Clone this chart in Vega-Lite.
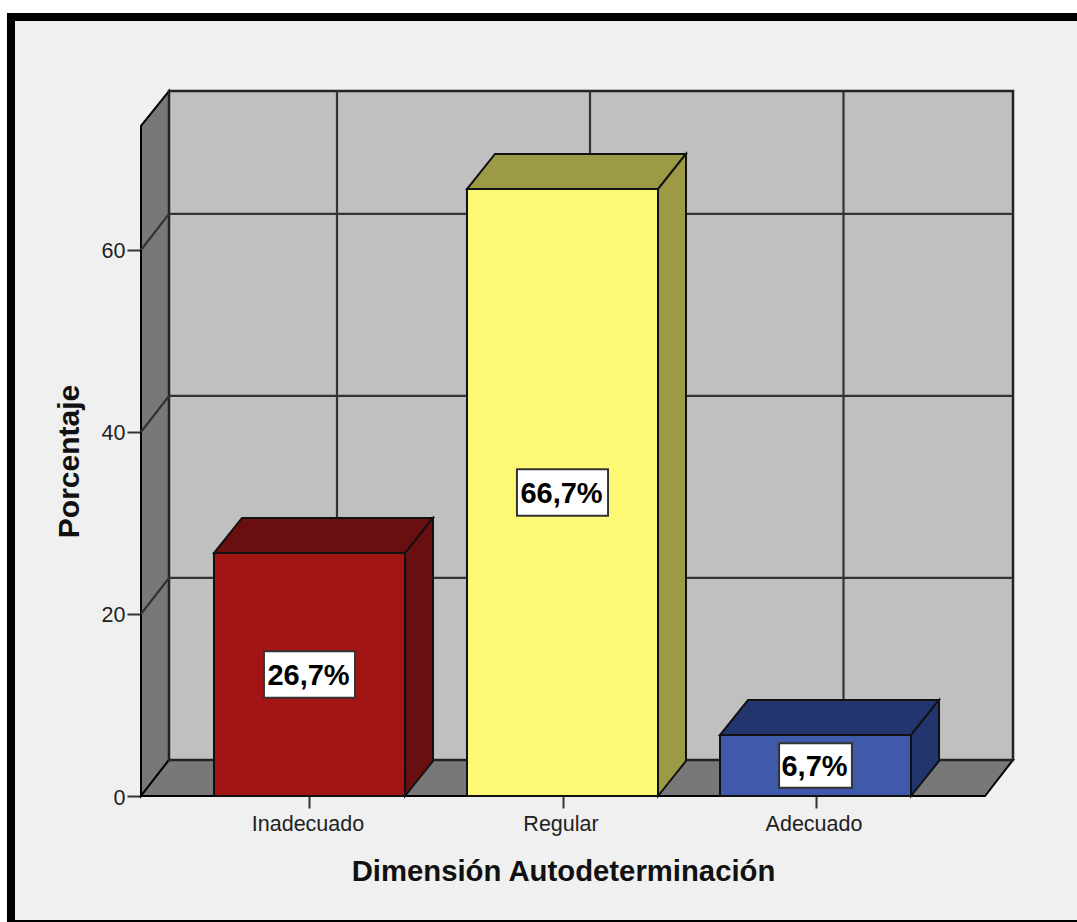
{
"$schema":"https://vega.github.io/schema/vega-lite/v6.json",
"width":872,"height":705,
"autosize":{"type":"none"},
"padding":{"left":141,"top":91,"right":64,"bottom":126},
"background":"#f0f0f0",
"config":{"view":{"stroke":null},"font":"Liberation Sans"},
"datasets":{
"marco":[
{"parte":"blanco","x":-0.2233,"x2":4.0336,"y":86.04,"y2":87.47},
{"parte":"blanco","x":-0.2233,"x2":-0.1957,"y":-13.846,"y2":87.47},
{"parte":"negro","x":-0.1957,"x2":4.0336,"y":85.16,"y2":86.04},
{"parte":"negro","x":-0.1957,"x2":-0.164,"y":-13.846,"y2":86.04},
{"parte":"negro","x":-0.1957,"x2":4.0336,"y":-13.846,"y2":-13.626}
],
"paredes":[
{"parte":"lateral","x":0.334,"y":0,"y2":73.63},
{"parte":"lateral","x":0.4447,"y":3.96,"y2":77.47},
{"parte":"piso","x":0.334,"y":0,"y2":0},
{"parte":"piso","x":0.4447,"y":0,"y2":3.96},
{"parte":"piso","x":3.67,"y":0,"y2":3.96},
{"parte":"piso","x":3.7806,"y":3.96,"y2":3.96}
],
"fondo":[{"parte":"pared","x":0.4447,"x2":3.7806,"y":3.96,"y2":77.47}],
"rejilla":[
{"x":0.4447,"x2":3.7806,"y":23.96,"y2":23.96},
{"x":0.4447,"x2":3.7806,"y":43.96,"y2":43.96},
{"x":0.4447,"x2":3.7806,"y":63.96,"y2":63.96},
{"x":0.334,"x2":0.4447,"y":20,"y2":23.96},
{"x":0.334,"x2":0.4447,"y":40,"y2":43.96},
{"x":0.334,"x2":0.4447,"y":60,"y2":63.96},
{"x":1.1087,"x2":1.1087,"y":3.96,"y2":77.47},
{"x":2.1087,"x2":2.1087,"y":3.96,"y2":77.47},
{"x":3.1107,"x2":3.1107,"y":3.96,"y2":77.47}
],
"frentes":[
{"parte":"Inadecuado","x":0.6225,"x2":1.3775,"y":0,"y2":26.7},
{"parte":"Regular","x":1.6225,"x2":2.3775,"y":0,"y2":66.7},
{"parte":"Adecuado","x":2.6225,"x2":3.3775,"y":0,"y2":6.7}
],
"caras":[
{"cara":"a1","parte":"Inadecuado oscuro","x":0.6225,"y":26.7,"y2":26.7},
{"cara":"a1","parte":"Inadecuado oscuro","x":0.7332,"y":26.7,"y2":30.55},
{"cara":"a1","parte":"Inadecuado oscuro","x":1.3775,"y":26.7,"y2":30.55},
{"cara":"a1","parte":"Inadecuado oscuro","x":1.4882,"y":30.55,"y2":30.55},
{"cara":"a2","parte":"Inadecuado oscuro","x":1.3775,"y":0,"y2":26.7},
{"cara":"a2","parte":"Inadecuado oscuro","x":1.4882,"y":3.85,"y2":30.55},
{"cara":"b1","parte":"Regular oscuro","x":1.6225,"y":66.7,"y2":66.7},
{"cara":"b1","parte":"Regular oscuro","x":1.7332,"y":66.7,"y2":70.55},
{"cara":"b1","parte":"Regular oscuro","x":2.3775,"y":66.7,"y2":70.55},
{"cara":"b1","parte":"Regular oscuro","x":2.4882,"y":70.55,"y2":70.55},
{"cara":"b2","parte":"Regular oscuro","x":2.3775,"y":0,"y2":66.7},
{"cara":"b2","parte":"Regular oscuro","x":2.4882,"y":3.85,"y2":70.55},
{"cara":"c1","parte":"Adecuado oscuro","x":2.6225,"y":6.7,"y2":6.7},
{"cara":"c1","parte":"Adecuado oscuro","x":2.7332,"y":6.7,"y2":10.55},
{"cara":"c1","parte":"Adecuado oscuro","x":3.3775,"y":6.7,"y2":10.55},
{"cara":"c1","parte":"Adecuado oscuro","x":3.4882,"y":10.55,"y2":10.55},
{"cara":"c2","parte":"Adecuado oscuro","x":3.3775,"y":0,"y2":6.7},
{"cara":"c2","parte":"Adecuado oscuro","x":3.4882,"y":3.85,"y2":10.55}
],
"cajas":[
{"x":0.82,"x2":1.18,"y":10.8,"y2":15.9},
{"x":1.82,"x2":2.18,"y":30.8,"y2":35.9},
{"x":2.856,"x2":3.144,"y":0.9,"y2":5.8}
],
"etiquetas":[
{"x":1,"y":13.35,"texto":"26,7%"},
{"x":2,"y":33.35,"texto":"66,7%"},
{"x":3,"y":3.35,"texto":"6,7%"}
]
},
"encoding":{
"x":{"field":"x","type":"quantitative","scale":{"domain":[0.334,3.7806],"nice":false,"zero":false},
"axis":{"values":[1,2,3],"labelExpr":"datum.value==1?'Inadecuado':datum.value==2?'Regular':'Adecuado'","title":"Dimensión Autodeterminación","grid":false,"domain":false,"tickSize":12,"tickWidth":2,"tickColor":"#333333","labelFontSize":21.5,"labelColor":"#222222","labelPadding":5,"labelOffset":-2,"labelFont":"Liberation Sans","titleFont":"Liberation Sans","titleFontSize":29.3,"titleFontWeight":"bold","titleColor":"#111111","titlePadding":23,"titleX":422}},
"y":{"field":"y","type":"quantitative","scale":{"domain":[0,77.47],"nice":false,"zero":false},
"axis":{"values":[0,20,40,60],"title":"Porcentaje","grid":false,"domain":false,"tickSize":14,"tickWidth":2,"tickColor":"#333333","labelFontSize":21.5,"labelColor":"#222222","labelPadding":2,"labelOffset":2,"labelFont":"Liberation Sans","titleFont":"Liberation Sans","titleFontSize":30,"titleFontWeight":"bold","titleColor":"#111111","titlePadding":17,"titleY":370}}
},
"layer":[
{"data":{"name":"marco"},"mark":{"type":"rect","clip":false},
"encoding":{"x2":{"field":"x2"},"y2":{"field":"y2"},
"color":{"field":"parte","type":"nominal","legend":null,"scale":{"domain":["blanco","negro","Inadecuado","Regular","Adecuado","Inadecuado oscuro","Regular oscuro","Adecuado oscuro"],"range":["#ffffff","#000000","#a31515","#fdf975","#3f5aab","#6a0f10","#9c9a45","#22356e"]}}}},
{"data":{"name":"paredes"},"mark":{"type":"area","stroke":"#000000","strokeWidth":2,"fill":"#787878"},
"encoding":{"y2":{"field":"y2"},"detail":{"field":"parte"}}},
{"data":{"name":"fondo"},"mark":{"type":"rect","fill":"#c0c0c0","stroke":"#222222","strokeWidth":2.5},
"encoding":{"x2":{"field":"x2"},"y2":{"field":"y2"}}},
{"data":{"name":"rejilla"},"mark":{"type":"rule","stroke":"#333333","strokeWidth":2.2},
"encoding":{"x2":{"field":"x2"},"y2":{"field":"y2"}}},
{"data":{"name":"frentes"},"mark":{"type":"rect","stroke":"#111111","strokeWidth":2},
"encoding":{"x2":{"field":"x2"},"y2":{"field":"y2"},
"color":{"field":"parte","type":"nominal","legend":null}}},
{"data":{"name":"caras"},"mark":{"type":"area","stroke":"#111111","strokeWidth":2},
"encoding":{"y2":{"field":"y2"},"detail":{"field":"cara"},
"color":{"field":"parte","type":"nominal","legend":null}}},
{"data":{"name":"cajas"},"mark":{"type":"rect","fill":"#ffffff","stroke":"#333333","strokeWidth":2},
"encoding":{"x2":{"field":"x2"},"y2":{"field":"y2"}}},
{"data":{"name":"etiquetas"},"mark":{"type":"text","font":"Liberation Sans","fontWeight":"bold","fontSize":29,"color":"#000000","baseline":"middle","align":"center","dx":-1,"dy":1.5},
"encoding":{"text":{"field":"texto"}}}
]
}
